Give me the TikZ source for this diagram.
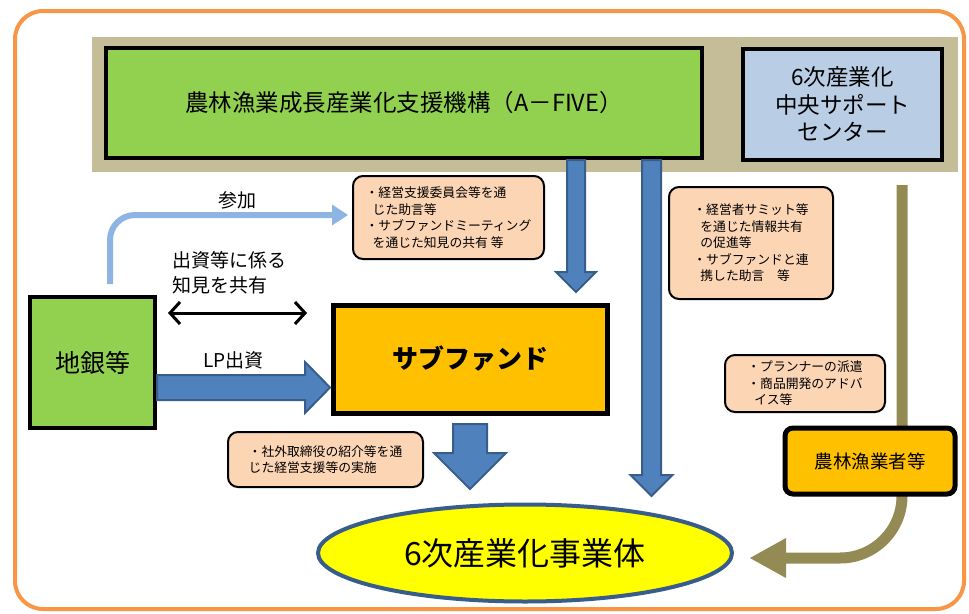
\documentclass[tikz,border=0pt]{standalone}
\usepackage{fontspec}
\setmainfont{Noto Sans CJK JP}
\usetikzlibrary{shapes.geometric,arrows.meta}
\definecolor{greenc}{HTML}{92D050}
\definecolor{tanc}{HTML}{C4BD97}
\definecolor{lbluec}{HTML}{B9CDE5}
\definecolor{orangec}{HTML}{FFC000}
\definecolor{peachc}{HTML}{FCD5B5}
\definecolor{arrowblue}{HTML}{4F81BD}
\definecolor{arrowdark}{HTML}{385D8A}
\definecolor{lblarrow}{HTML}{8EB4E3}
\definecolor{olivec}{HTML}{948A54}
\definecolor{borderc}{HTML}{F79646}
\definecolor{yellowc}{HTML}{FFFF00}
\newcommand\blockdown[6]{\filldraw[blockarrow] ({#1-#5},#2) -- ({#1+#5},#2) -- ({#1+#5},#3) -- ({#1+#6},#3) -- (#1,#4) -- ({#1-#6},#3) -- ({#1-#5},#3) -- cycle;}
\tikzset{
 bigbox/.style={draw=black, line width=4pt, inner sep=0pt, align=center},
 peach/.style={draw=black, line width=2pt, fill=peachc, rounded corners=10pt, inner sep=0pt, align=left, font=\fontsize{12.8}{16.5}\selectfont},
 blockarrow/.style={fill=arrowblue, draw=arrowdark, line width=2pt, line join=miter},
 lbl/.style={inner sep=0pt, align=left, font=\fontsize{19}{25}\selectfont},
}
\begin{document}
\begin{tikzpicture}[x=1pt,y=-1pt]
\useasboundingbox (0,0) rectangle (969,613);
% outer frame
\draw[borderc, line width=4pt, rounded corners=28pt] (15,11) rectangle (964,609);
% tan band
\fill[tanc] (92,37) rectangle (958,172);
% top boxes
\node[bigbox, fill=greenc, minimum width=596pt, minimum height=110pt, font=\fontsize{23.5}{27}\selectfont] (afive) at (404,103) {農林漁業成長産業化支援機構（A－FIVE）};
\node[bigbox, fill=lbluec, minimum width=199pt, minimum height=111pt, font=\fontsize{22.5}{27.5}\selectfont] (center) at (842.5,104.5) {6次産業化\\中央サポート\\センター};
% olive arrow
\coordinate (oliveStart) at (902,185);
\coordinate (oliveTip) at (750,558);
\draw[olivec, line width=11pt, rounded corners=62pt] (oliveStart) -- (902,558) -- (786,558);
\fill[olivec] (786,538) -- (oliveTip) -- (786,578) -- cycle;
% main nodes
\node[bigbox, fill=greenc, minimum width=125pt, minimum height=131pt, font=\fontsize{25}{30}\selectfont] (chigin) at (92.5,362.5) {地銀等};
\node[bigbox, line width=5pt, fill=orangec, minimum width=274pt, minimum height=108pt, font=\fontsize{26}{30}\selectfont\bfseries] (subfund) at (470,359) {サブファンド};
\node[bigbox, line width=5pt, fill=orangec, rounded corners=8pt, minimum width=170pt, minimum height=66pt, font=\fontsize{18.5}{22}\selectfont] (farmers) at (870,461) {農林漁業者等};
\node[ellipse, draw=arrowdark, line width=4pt, fill=yellowc, minimum width=414pt, minimum height=97pt, inner sep=0pt, font=\fontsize{32}{36}\selectfont] (entity) at (525,553) {6次産業化事業体};
% peach notes
\node[peach, minimum width=191pt, minimum height=83pt] (note1) at (448.5,217.5) {・経営支援委員会等を通\\\hspace*{0.55em}じた助言等\\・サブファンドミーティング\\\hspace*{0.55em}を通じた知見の共有 等};
\node[peach, minimum width=164pt, minimum height=112pt] (note2) at (751,243) {・経営者サミット等\\\hspace*{0.55em}を通じた情報共有\\\hspace*{0.55em}の促進等\\・サブファンドと連\\\hspace*{0.55em}携した助言　等};
\node[peach, minimum width=160pt, minimum height=57pt] (note3) at (805,383.5) {・プランナーの派遣\\・商品開発のアドバ\\\hspace*{0.55em}イス等};
\node[peach, minimum width=195pt, minimum height=55pt] (note4) at (325.5,459.5) {・社外取締役の紹介等を通\\じた経営支援等の実施};
% blue block arrows
\blockdown{576}{160}{272}{292}{9}{20}
\blockdown{651.5}{160}{475}{496}{9.5}{21}
\blockdown{470}{424}{453}{489}{17}{36}
\filldraw[blockarrow] (157,375) -- (305,375) -- (305,362) -- (330,387.5) -- (305,413) -- (305,400) -- (157,400) -- cycle;
% light blue arrow
\coordinate (sankaStart) at (110,284);
\coordinate (sankaTip) at (348,215);
\draw[lblarrow, line width=6pt, rounded corners=25pt] (sankaStart) -- (110,215) -- (334,215);
\fill[lblarrow] (332,204.5) -- (sankaTip) -- (332,225.5) -- cycle;
% double arrow
\coordinate (dblA) at (168,313);
\coordinate (dblB) at (307,313);
\draw[line width=3pt, {Straight Barb[length=10pt,width=22pt]}-{Straight Barb[length=10pt,width=22pt]}] (dblA) -- (dblB);
% labels
\node[lbl, anchor=west] (sanka) at (218,200) {参加};
\node[lbl, anchor=west] (shusshi) at (172,272.5) {出資等に係る\\知見を共有};
\node[lbl, anchor=west] (lp) at (203,360) {LP出資};
\end{tikzpicture}
\end{document}
